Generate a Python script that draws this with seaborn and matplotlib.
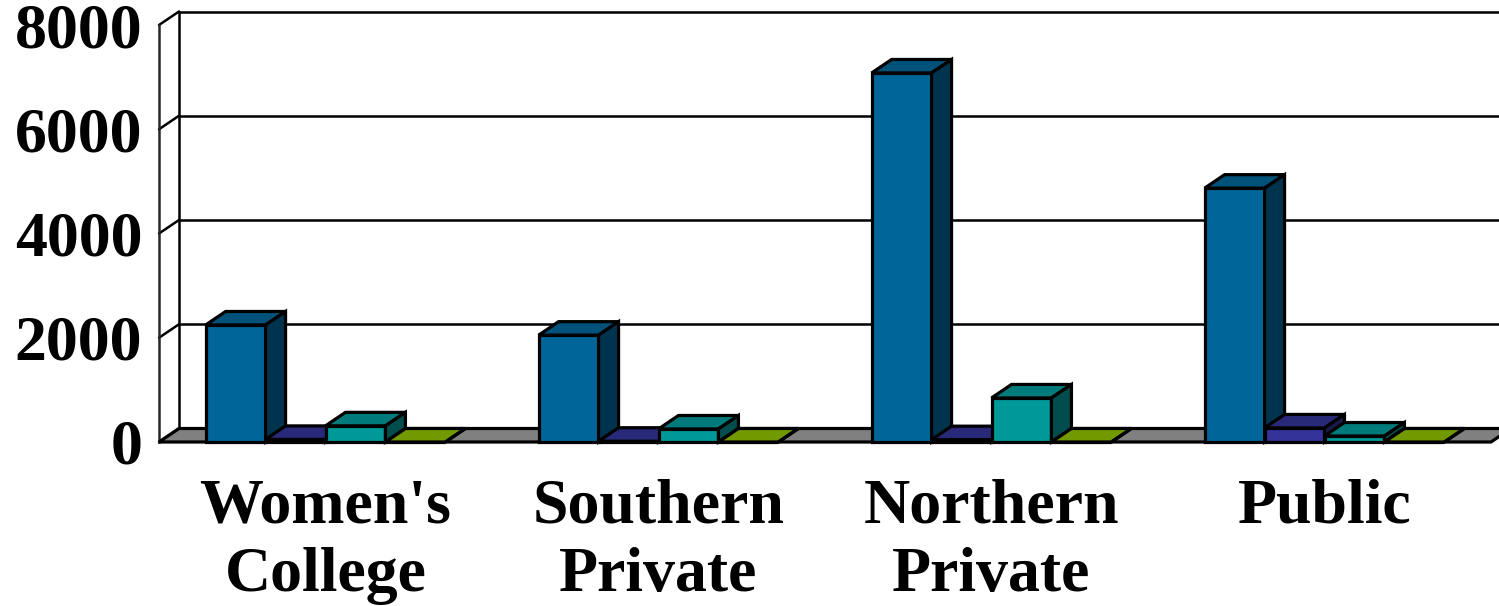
import matplotlib
matplotlib.use("Agg")
import matplotlib.pyplot as plt
from matplotlib.patches import Polygon
from matplotlib.colors import to_rgb
import seaborn as sns
import pandas as pd
import numpy as np

# ---- data -------------------------------------------------------------
categories = ["Women's\nCollege", "Southern\nPrivate", "Northern\nPrivate", "Public"]
series = ["Series 1", "Series 2", "Series 3", "Series 4"]
series1 = [2245, 2050, 7080, 4870]
series2 = [50, 15, 45, 270]
series3 = [310, 250, 845, 115]
series4 = [0, 0, 0, 0]
y_ticks = [0, 2000, 4000, 6000, 8000]

front_colors = ["#006699", "#333399", "#009999", "#8FC000"]

df = pd.DataFrame({
    "category": categories * 4,
    "series": sum([[s] * len(categories) for s in series], []),
    "value": series1 + series2 + series3 + series4,
})

# ---- style ------------------------------------------------------------
sns.set_style("white")
plt.rcParams["font.family"] = ["Liberation Serif", "DejaVu Serif"]
plt.rcParams["font.weight"] = "bold"

W, H = 1499, 606
fig = plt.figure(figsize=(W / 100, H / 100), dpi=100)
ax = fig.add_axes([159 / W, 164 / H, 1332 / W, 417 / H])

sns.barplot(data=df, x="category", y="value", hue="series", order=categories,
            hue_order=series, palette=front_colors, width=0.72, gap=0,
            saturation=1, edgecolor="black", linewidth=2.3, legend=False, ax=ax)

ax.set_xlim(-0.5, 3.5)
ax.set_ylim(0, 8000)

# depth of the pseudo-3D box, in data units
DX = 20 / 333.0
DY = 13.5 * 8000 / 417.0

LW = 2.3


def shade(c, f):
    r, g, b = to_rgb(c)
    return (r * f, g * f, b * f)


# back wall: vertical edge, gridlines and the diagonals on the side wall
x_left = -0.5
ax.plot([x_left + DX, x_left + DX], [DY, 8000 + DY], color="black", lw=1.8,
        clip_on=False, zorder=1)
for v in y_ticks:
    ax.plot([x_left, x_left + DX], [v, v + DY], color="black", lw=1.8,
            clip_on=False, zorder=1)
    if v > 0:
        ax.plot([x_left + DX, 3.5 + DX + 1], [v + DY, v + DY], color="black",
                lw=1.8, clip_on=False, zorder=1)

# floor
floor = Polygon([(x_left, 0), (3.5, 0), (3.5 + DX, DY), (x_left + DX, DY)],
                closed=True, facecolor="#808080", edgecolor="black", lw=LW,
                clip_on=False, zorder=1.5, joinstyle="miter")
ax.add_patch(floor)

# top and side faces for every bar, stacked left to right
bars = sorted([p for p in ax.patches if p is not floor], key=lambda p: p.get_x())
for i, p in enumerate(bars):
    x0, w, h = p.get_x(), p.get_width(), p.get_height()
    fc = p.get_facecolor()
    z = 3 + 0.01 * i
    p.set_zorder(z)
    p.set_clip_on(False)
    p.set_joinstyle("miter")
    top = Polygon([(x0, h), (x0 + w, h), (x0 + w + DX, h + DY), (x0 + DX, h + DY)],
                  closed=True, facecolor=shade(fc[:3], 0.8), edgecolor="black",
                  lw=LW, zorder=z + 0.002, clip_on=False, joinstyle="miter")
    side = Polygon([(x0 + w, 0), (x0 + w + DX, DY), (x0 + w + DX, h + DY), (x0 + w, h)],
                   closed=True, facecolor=shade(fc[:3], 0.5), edgecolor="black",
                   lw=LW, zorder=z + 0.004, clip_on=False, joinstyle="miter")
    ax.add_patch(top)
    ax.add_patch(side)

# axes, ticks, labels
for s in ["top", "right"]:
    ax.spines[s].set_visible(False)
ax.spines["left"].set_linewidth(1.8)
ax.spines["left"].set_zorder(1)
ax.spines["bottom"].set_visible(False)

ax.set_yticks(y_ticks)
ax.set_yticklabels([str(v) for v in y_ticks])
ax.tick_params(axis="y", direction="out", length=7, width=1.8, pad=5,
               labelsize=46, colors="black", labelcolor="black")
ax.set_xticks(range(len(categories)))
ax.set_xticklabels(categories)
ax.set_xticks(np.arange(-0.5, 4, 1), minor=True)
ax.tick_params(axis="x", which="major", length=0, pad=26, labelsize=46,
               labelcolor="black")
ax.tick_params(axis="x", which="minor", direction="out", length=8, width=1.8,
               colors="black")
for t in ax.get_xticklabels() + ax.get_yticklabels():
    t.set_fontweight("bold")
    t.set_color("black")
for t in ax.get_xticklabels():
    t.set_linespacing(1.25)
ax.set_xlabel("")
ax.set_ylabel("")
ax.grid(False)

fig.savefig("out.png", dpi=100)
